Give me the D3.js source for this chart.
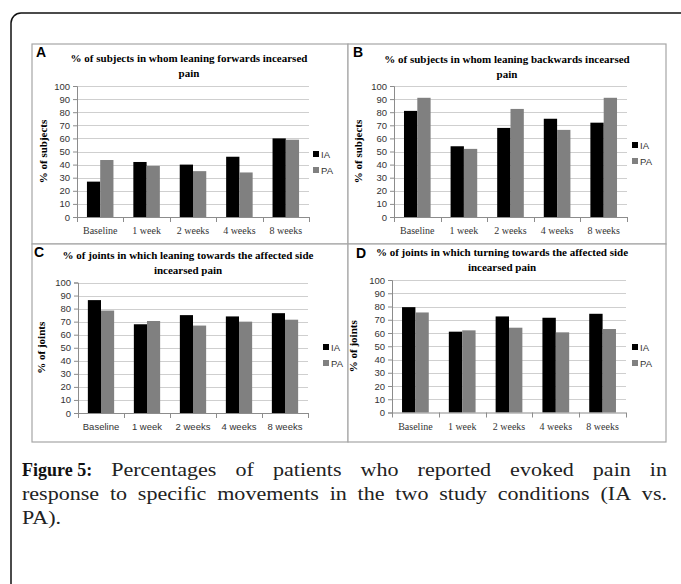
<!DOCTYPE html>
<html>
<head>
<meta charset="utf-8">
<script src="https://cdn.jsdelivr.net/npm/d3@7"></script>
<style>
  html, body { margin: 0; padding: 0; background: #fff; overflow: hidden; }
  svg { display: block; }
</style>
</head>
<body>
<div id="chart"></div>
<script>
// data
var categories = ["Baseline", "1 week", "2 weeks", "4 weeks", "8 weeks"];
var seriesNames = ["IA", "PA"];
var yTicks = [0, 10, 20, 30, 40, 50, 60, 70, 80, 90, 100];

var iaForwards = [27, 42, 40, 46, 60];
var paForwards = [43.5, 39, 35, 34, 59];
var iaBackwards = [81, 54, 68, 75, 72];
var paBackwards = [91, 52, 82.5, 66.5, 91];
var iaLeaning = [86.5, 68, 75, 74, 76.5];
var paLeaning = [78.5, 70.5, 67, 70, 71.5];
var iaTurning = [79.5, 61, 72.5, 71.5, 74.5];
var paTurning = [75.5, 62, 64, 60.5, 63];

var panelLetters = ["A", "B", "C", "D"];
var panelTitles = [
  ["% of subjects in whom leaning forwards incearsed", "pain"],
  ["% of subjects in whom leaning backwards incearsed", "pain"],
  ["% of joints in which leaning towards the affected side", "incearsed pain"],
  ["% of joints in which turning towards the affected side", "incearsed pain"]
];
var yTitles = ["% of subjects", "% of subjects", "% of joints", "% of joints"];

var captionLabel = "Figure 5:";
var captionLines = [
  "Percentages of patients who reported evoked pain in",
  "response to specific movements in the two study conditions (IA vs.",
  "PA)."
];

var width = 681, height = 584;
var colors = { IA: "#000000", PA: "#808080" };
var SANS = "'Liberation Sans', Arial, sans-serif";
var SERIF = "'Liberation Serif', 'Times New Roman', serif";

var svg = d3.select("#chart").append("svg")
  .attr("width", width)
  .attr("height", height);

// outer frame (runs off the page at right and bottom)
svg.append("rect")
  .attr("x", 11).attr("y", 13)
  .attr("width", 720).attr("height", 620)
  .attr("rx", 10)
  .attr("fill", "none")
  .attr("stroke", "#111")
  .attr("stroke-width", 1.5);

// panel layout
var panels = [
  { box: [32, 44, 348, 244], plot: [77, 86, 309, 217], data: [iaForwards, paForwards],
    titleX: 189, titleY: 62, letterPos: [36, 57], yTitleX: 47, legend: [313, 154], catFont: SERIF },
  { box: [348, 44, 666, 244], plot: [394, 86, 627, 217], data: [iaBackwards, paBackwards],
    titleX: 507, titleY: 63, letterPos: [353, 57], yTitleX: 362, legend: [632, 145], catFont: SERIF },
  { box: [32, 244, 348, 442], plot: [78, 282.5, 308, 413], data: [iaLeaning, paLeaning],
    titleX: 188, titleY: 259, letterPos: [34, 257], yTitleX: 45, legend: [323, 347], catFont: SANS },
  { box: [348, 244, 666, 442], plot: [392, 280, 626, 412.5], data: [iaTurning, paTurning],
    titleX: 502, titleY: 256, letterPos: [356, 258], yTitleX: 357, legend: [632, 347], catFont: SERIF }
];

panels.forEach(function (p, i) {
  svg.append("rect")
    .attr("x", p.box[0]).attr("y", p.box[1])
    .attr("width", p.box[2] - p.box[0]).attr("height", p.box[3] - p.box[1])
    .attr("fill", "#fff")
    .attr("stroke", "#a6a6a6")
    .attr("stroke-width", 1.2);
});

panels.forEach(function (p, i) {
  var g = svg.append("g");
  var x0 = d3.scaleBand().domain(categories).range([p.plot[0], p.plot[2]]).padding(0);
  var x1 = d3.scaleBand().domain(seriesNames).range([0, x0.bandwidth()])
    .paddingInner(0).paddingOuter(0.75);
  var y = d3.scaleLinear().domain([0, 100]).range([p.plot[3], p.plot[1]]);

  // letter
  g.append("text")
    .attr("x", p.letterPos[0]).attr("y", p.letterPos[1])
    .attr("font-family", SANS).attr("font-weight", "bold").attr("font-size", 14)
    .text(panelLetters[i]);

  // title
  g.append("text")
    .attr("x", p.titleX).attr("y", p.titleY)
    .attr("text-anchor", "middle")
    .attr("font-family", SERIF).attr("font-weight", "bold").attr("font-size", 11)
    .selectAll("tspan")
    .data(panelTitles[i])
    .enter().append("tspan")
    .attr("x", p.titleX)
    .attr("dy", function (d, k) { return k === 0 ? 0 : 14.5; })
    .text(function (d) { return d; });

  // gridlines
  g.selectAll(".grid")
    .data(yTicks.slice(1))
    .enter().append("line")
    .attr("x1", p.plot[0]).attr("x2", p.plot[2])
    .attr("y1", function (d) { return Math.round(y(d)) + 0.5; })
    .attr("y2", function (d) { return Math.round(y(d)) + 0.5; })
    .attr("stroke", "#cfcfcf").attr("stroke-width", 1);

  // y axis
  var yAxis = d3.axisLeft(y).tickValues(yTicks).tickSize(4).tickPadding(3);
  var ya = g.append("g").attr("transform", "translate(" + p.plot[0] + ",0)").call(yAxis);
  ya.select(".domain").attr("stroke", "#8c8c8c");
  ya.selectAll(".tick line").attr("stroke", "#8c8c8c");
  ya.selectAll("text").attr("font-family", SANS).attr("font-size", 9.5).attr("fill", "#333");

  // bars
  var groups = g.selectAll(".cat")
    .data(categories)
    .enter().append("g")
    .attr("transform", function (d) { return "translate(" + x0(d) + ",0)"; });

  groups.selectAll("rect")
    .data(function (d, ci) {
      return seriesNames.map(function (s, si) { return { s: s, v: p.data[si][ci] }; });
    })
    .enter().append("rect")
    .attr("x", function (d) { return x1(d.s); })
    .attr("width", x1.bandwidth())
    .attr("y", function (d) { return y(d.v); })
    .attr("height", function (d) { return y(0) - y(d.v); })
    .attr("fill", function (d) { return colors[d.s]; });

  // x axis: Excel-style ticks at category boundaries
  var bounds = categories.map(function (c) { return x0(c); }).concat([p.plot[2]]);
  g.append("line")
    .attr("x1", p.plot[0]).attr("x2", p.plot[2])
    .attr("y1", y(0) + 0.5).attr("y2", y(0) + 0.5)
    .attr("stroke", "#8c8c8c");
  g.selectAll(".xt")
    .data(bounds)
    .enter().append("line")
    .attr("x1", function (d) { return Math.round(d) + 0.5; })
    .attr("x2", function (d) { return Math.round(d) + 0.5; })
    .attr("y1", y(0)).attr("y2", y(0) + 5)
    .attr("stroke", "#8c8c8c");
  g.selectAll(".xl")
    .data(categories)
    .enter().append("text")
    .attr("x", function (d) { return x0(d) + x0.bandwidth() / 2; })
    .attr("y", y(0) + 17)
    .attr("text-anchor", "middle")
    .attr("font-family", p.catFont).attr("font-size", p.catFont === SANS ? 9.5 : 10)
    .attr("fill", "#333")
    .text(function (d) { return d; });

  // y title
  var yMid = (p.plot[1] + p.plot[3]) / 2;
  g.append("text")
    .attr("transform", "translate(" + p.yTitleX + "," + yMid + ") rotate(-90)")
    .attr("text-anchor", "middle")
    .attr("font-family", SERIF).attr("font-weight", "bold").attr("font-size", 11)
    .text(yTitles[i]);

  // legend
  var lg = g.selectAll(".lg")
    .data(seriesNames)
    .enter().append("g")
    .attr("transform", function (d, k) {
      return "translate(" + p.legend[0] + "," + (p.legend[1] + k * 16) + ")";
    });
  lg.append("rect")
    .attr("x", 0).attr("y", -3).attr("width", 6).attr("height", 6)
    .attr("fill", function (d) { return colors[d]; });
  lg.append("text")
    .attr("x", 8).attr("y", 3.5)
    .attr("font-family", SANS).attr("font-size", 9.5).attr("fill", "#333")
    .text(function (d) { return d; });
});

// caption with justified lines; body glyphs widened a little to look like a book face
var capLeft = 22, capRight = 667, capTop = 476, lineH = 24, widen = 1.16;
var cap = svg.append("g")
  .attr("font-family", SERIF).attr("font-size", 19).attr("fill", "#222");

function measure(txt, bold) {
  var t = cap.append("text")
    .attr("font-weight", bold ? "bold" : null)
    .attr("font-size", bold ? 18 : null)
    .text(txt);
  var w = t.node().getComputedTextLength();
  t.remove();
  return w;
}

captionLines.forEach(function (line, li) {
  var words = line.split(" ").map(function (w) { return { t: w, bold: false }; });
  if (li === 0) words.unshift({ t: captionLabel, bold: true });
  var yy = capTop + li * lineH;
  var widths = words.map(function (w) { return measure(w.t, w.bold) * (w.bold ? 1 : widen); });
  var total = d3.sum(widths);
  var justify = li < captionLines.length - 1;
  var gap = justify ? (capRight - capLeft - total) / (words.length - 1) : measure(" ");
  var xx = capLeft;
  words.forEach(function (w, k) {
    var t = cap.append("text")
      .attr("x", xx).attr("y", yy)
      .attr("font-weight", w.bold ? "bold" : null)
      .attr("font-size", w.bold ? 18 : null)
      .attr("fill", w.bold ? "#111" : "#222")
      .text(w.t);
    if (!w.bold) {
      t.attr("textLength", widths[k]).attr("lengthAdjust", "spacingAndGlyphs");
    }
    xx += widths[k] + gap;
  });
});
</script>
</body>
</html>
